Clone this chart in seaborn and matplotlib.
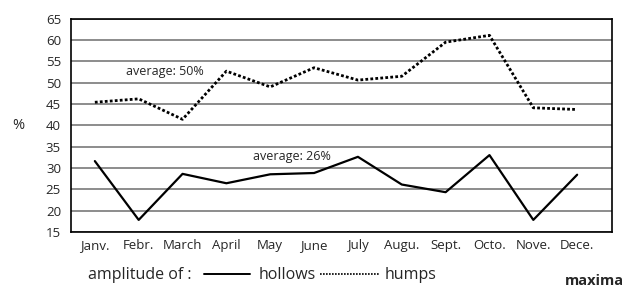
import matplotlib
matplotlib.use("Agg")
import matplotlib.pyplot as plt
import numpy as np
import pandas as pd
import seaborn as sns
from matplotlib.lines import Line2D

months = ["Janv.", "Febr.", "March", "April", "May", "June",
          "July", "Augu.", "Sept.", "Octo.", "Nove.", "Dece."]
hollows = [31.6, 17.8, 28.6, 26.4, 28.5, 28.8, 32.6, 26.1, 24.3, 33.0, 17.8, 28.4]
humps = [45.4, 46.2, 41.4, 52.7, 49.0, 53.5, 50.6, 51.5, 59.5, 61.1, 44.1, 43.7]
yticks = list(range(15, 70, 5))

sns.set_theme(style="white")
plt.rcParams["font.family"] = ["Open Sans", "DejaVu Sans"]

df = pd.DataFrame({"idx": np.arange(len(months)), "hollows": hollows, "humps": humps})

fig = plt.figure(figsize=(6.26, 2.88), dpi=100)
ax = fig.add_axes([0.113, 0.195, 0.865, 0.74])

sns.lineplot(data=df, x="idx", y="hollows", ax=ax, color="black", lw=1.6)
sns.lineplot(data=df, x="idx", y="humps", ax=ax, color="black", lw=2.0,
             linestyle=(0, (1, 0.8)))

ax.set_xlim(-0.55, 11.8)
ax.set_ylim(15, 65)
ax.set_yticks(yticks)
ax.set_yticklabels([str(t) for t in yticks], fontsize=9.5)
ax.set_xticks(range(len(months)))
ax.set_xticklabels(months, fontsize=9.5)
ax.tick_params(axis="y", length=0, pad=7)
ax.tick_params(axis="x", length=0, pad=5)
ax.yaxis.grid(True, color="#8c8c8c", lw=1.4)
ax.set_axisbelow(True)
for s in ax.spines.values():
    s.set_color("black")
    s.set_linewidth(1.2)
ax.set_xlabel("")
ax.set_ylabel("%", rotation=0, fontsize=10.5, labelpad=20, va="center")

ax.text(0.72, 51.2, "average: 50%", fontsize=9, ha="left", va="bottom")
ax.text(3.6, 31.2, "average: 26%", fontsize=9, ha="left", va="bottom")

# legend at the bottom
fig.text(0.14, 0.045, "amplitude of :", fontsize=11.5, va="center")
fig.add_artist(Line2D([0.326, 0.40], [0.05, 0.05], color="black", lw=1.4))
fig.text(0.413, 0.045, "hollows", fontsize=11.5, va="center")
fig.add_artist(Line2D([0.511, 0.605], [0.05, 0.05], color="black", lw=1.2,
                      linestyle=(0, (1, 0.8))))
fig.text(0.615, 0.045, "humps", fontsize=11.5, va="center")
fig.text(0.997, 0.025, "maxima", fontsize=10.5, fontweight="bold", ha="right", va="center")

fig.savefig("out.png", dpi=100)
